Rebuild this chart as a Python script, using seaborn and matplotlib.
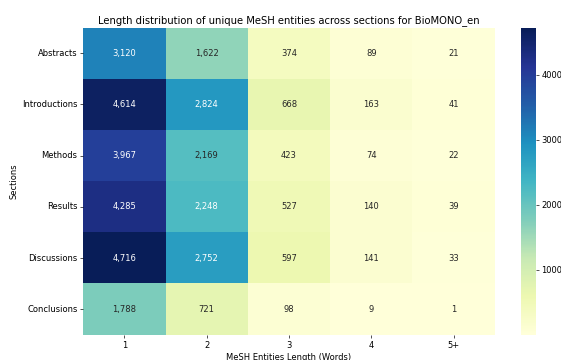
import numpy as np
import pandas as pd
import matplotlib
matplotlib.use("Agg")
import matplotlib.pyplot as plt
import seaborn as sns

sections = ["Abstracts", "Introductions", "Methods", "Results", "Discussions", "Conclusions"]
lengths = ["1", "2", "3", "4", "5+"]

abstracts = [3120, 1622, 374, 89, 21]
introductions = [4614, 2824, 668, 163, 41]
methods = [3967, 2169, 423, 74, 22]
results = [4285, 2248, 527, 140, 39]
discussions = [4716, 2752, 597, 141, 33]
conclusions = [1788, 721, 98, 9, 1]

counts = pd.DataFrame(
    [abstracts, introductions, methods, results, discussions, conclusions],
    index=sections,
    columns=lengths,
)

DPI = 60
W, H = 561, 360
fig = plt.figure(figsize=(W / DPI, (H + 0.2) / DPI), dpi=DPI)
ax = fig.add_axes([83.3 / W, 1 - 334.7 / H, (494.7 - 83.3) / W, (334.7 - 27.7) / H])
cax = fig.add_axes([520.7 / W, 1 - 334.7 / H, 15.0 / W, (334.7 - 28.3) / H])

sns.heatmap(
    counts,
    ax=ax,
    cbar_ax=cax,
    cmap="YlGnBu",
    annot=True,
    fmt=",",
)
ax.set_title("Length distribution of unique MeSH entities across sections for BioMONO_en")
ax.set_xlabel("MeSH Entities Length (Words)")
ax.set_ylabel("Sections")
ax.tick_params(axis="y", rotation=0)
ax.tick_params(axis="x", rotation=0)

fig.savefig("out.png", dpi=DPI)
